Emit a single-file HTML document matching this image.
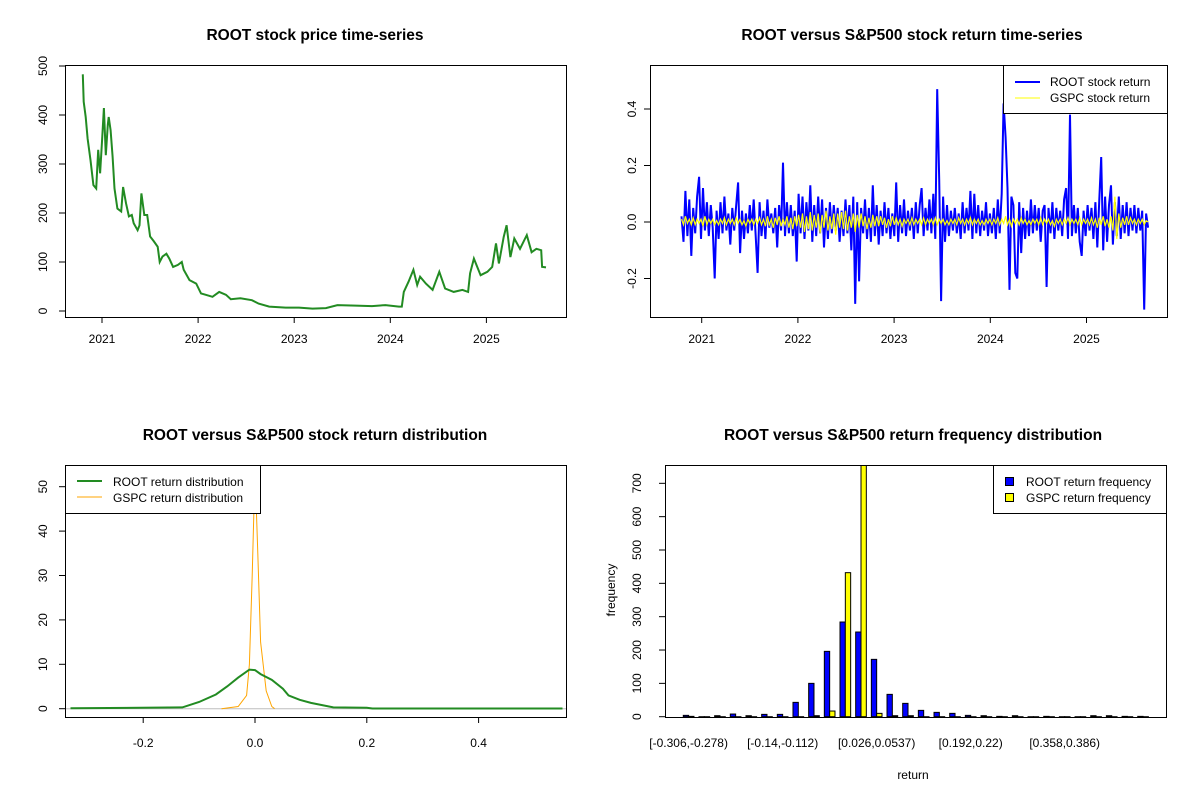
<!DOCTYPE html>
<html><head><meta charset="utf-8"><style>
body{margin:0;background:#fff;}
svg{display:block;font-family:"Liberation Sans",Arial,sans-serif;}
</style></head><body>
<svg id="c" width="1200" height="800" xmlns="http://www.w3.org/2000/svg">
<rect width="1200" height="800" fill="#fff"/>
</svg>
<script>
// ---- Panel 1: price data ----
const priceDates=[2020.80,2020.81,2020.83,2020.85,2020.88,2020.91,2020.94,2020.96,2020.98,2021.00,2021.02,2021.04,2021.06,2021.07,2021.09,2021.11,2021.13,2021.16,2021.20,2021.22,2021.25,2021.28,2021.31,2021.33,2021.37,2021.39,2021.41,2021.44,2021.47,2021.50,2021.54,2021.58,2021.60,2021.63,2021.67,2021.70,2021.74,2021.79,2021.83,2021.85,2021.91,2021.98,2022.03,2022.08,2022.15,2022.22,2022.29,2022.34,2022.44,2022.56,2022.63,2022.74,2022.91,2023.05,2023.19,2023.33,2023.45,2023.64,2023.81,2023.95,2024.09,2024.12,2024.14,2024.19,2024.24,2024.28,2024.31,2024.37,2024.44,2024.51,2024.57,2024.66,2024.75,2024.81,2024.83,2024.87,2024.94,2025.01,2025.06,2025.10,2025.13,2025.18,2025.21,2025.25,2025.29,2025.35,2025.42,2025.47,2025.52,2025.57,2025.58,2025.62];
const priceValues=[483,427,396,352,308,257,250,329,281,346,414,318,380,396,369,315,250,209,203,253,220,193,196,179,165,175,240,196,196,152,142,131,100,111,117,107,90,94,100,84,63,56,36,33,29,39,33,24,26,22,15,9,7,7,5,6,12,11,10,12,9,9,39,60,84,53,70,56,43,80,46,39,43,39,77,107,73,80,90,138,97,151,175,110,148,127,155,120,127,124,90,89];
const priceTicks=[0,100,200,300,400,500];
const yearTicks=[2021,2022,2023,2024,2025];
// ---- Panel 2: returns ----
const rootReturns=[0.02,-0.07,0.11,-0.05,0.08,-0.12,0.05,-0.04,0.09,0.16,-0.06,0.12,-0.03,0.07,-0.05,0.06,-0.02,-0.2,0.04,-0.06,
0.07,-0.04,0.09,-0.03,0.03,-0.08,0.05,-0.03,0.06,0.14,-0.11,0.04,-0.06,0.03,-0.04,0.06,-0.03,0.08,-0.05,-0.18,
0.07,-0.05,0.04,-0.06,0.08,-0.02,0.03,-0.04,0.05,-0.09,0.06,-0.03,0.21,-0.05,0.07,-0.04,0.06,-0.05,0.04,-0.14,
0.1,-0.04,0.09,-0.06,0.07,-0.03,0.13,-0.07,0.06,-0.05,0.09,-0.04,0.08,-0.09,0.05,-0.06,0.07,-0.04,0.06,-0.03,
0.05,-0.07,0.04,-0.05,0.08,-0.04,0.06,-0.1,0.09,-0.29,0.07,-0.21,0.05,-0.04,0.08,-0.06,0.05,-0.07,0.13,-0.05,
0.06,-0.08,0.04,-0.05,0.07,-0.04,0.05,-0.06,0.03,-0.05,0.14,-0.07,0.06,-0.04,0.08,-0.05,0.04,-0.03,0.05,-0.06,
0.07,-0.04,0.06,0.12,-0.05,0.05,-0.03,0.08,-0.04,0.1,-0.06,0.47,0.15,-0.28,0.09,-0.07,0.06,-0.05,0.04,-0.03,
0.05,-0.04,0.03,-0.06,0.07,-0.04,0.05,-0.03,0.11,-0.06,0.1,-0.04,0.06,-0.05,0.04,-0.03,0.07,-0.05,0.03,-0.04,
0.05,-0.06,0.08,-0.04,0.1,0.42,0.3,0.12,-0.24,0.09,0.06,-0.18,-0.2,0.07,-0.11,0.05,-0.06,0.04,-0.05,0.08,
-0.04,0.06,-0.03,0.05,-0.07,0.04,0.06,-0.23,0.05,-0.04,0.07,-0.06,0.05,-0.03,0.04,-0.05,0.08,0.12,-0.06,0.38,
-0.05,0.06,-0.04,0.05,-0.07,-0.12,0.04,-0.05,0.06,-0.03,0.05,-0.06,0.07,-0.09,0.08,0.23,-0.1,0.09,-0.07,0.06,
0.13,-0.08,0.07,-0.05,0.09,-0.06,0.06,-0.04,0.07,-0.05,0.05,-0.03,0.06,-0.04,0.05,-0.03,0.04,-0.31,0.03,-0.02];
const gspcReturns=[0.01,-0.01,0.02,-0.005,0.01,-0.01,0.015,-0.01,0.01,-0.005,0.01,-0.015,0.02,-0.01,0.01,-0.005,0.01,-0.01,0.005,-0.01,
0.01,-0.005,0.015,-0.01,0.01,-0.005,0.01,-0.01,0.015,-0.005,0.01,-0.01,0.005,-0.015,0.01,-0.005,0.01,-0.01,0.01,-0.005,
0.015,-0.01,0.01,-0.015,0.02,-0.01,0.01,-0.02,0.015,-0.01,0.02,-0.015,0.01,-0.01,0.02,-0.02,0.015,-0.025,0.02,-0.015,
0.025,-0.02,0.03,-0.035,0.02,-0.025,0.035,-0.03,0.025,-0.02,0.03,-0.04,0.025,-0.02,0.04,-0.03,0.02,-0.025,0.03,-0.045,
0.03,-0.02,0.035,-0.025,0.04,-0.03,0.02,-0.02,0.03,-0.035,0.025,-0.02,0.03,-0.015,0.02,-0.025,0.015,-0.02,0.025,-0.015,
0.02,-0.015,0.02,-0.01,0.015,-0.02,0.01,-0.015,0.02,-0.01,0.015,-0.01,0.01,-0.015,0.01,-0.005,0.01,-0.01,0.015,-0.01,
0.01,-0.005,0.01,-0.01,0.015,-0.01,0.01,-0.005,0.01,-0.01,0.015,-0.01,0.01,-0.005,0.01,-0.01,0.005,-0.01,0.01,-0.005,
0.01,-0.01,0.015,-0.005,0.01,-0.01,0.01,-0.005,0.015,-0.01,0.01,-0.005,0.01,-0.01,0.005,-0.01,0.01,-0.005,0.01,-0.01,
0.01,-0.005,0.015,-0.01,0.01,-0.005,0.02,-0.01,0.01,-0.015,0.01,-0.005,0.01,-0.01,0.015,-0.005,0.01,-0.01,0.005,-0.01,
0.01,-0.005,0.01,-0.01,0.015,-0.01,0.01,-0.005,0.01,-0.01,0.005,-0.015,0.01,-0.005,0.01,-0.01,0.01,-0.005,0.015,-0.01,
0.01,-0.005,0.01,-0.01,0.015,-0.01,0.01,-0.005,0.01,-0.01,0.015,-0.01,0.01,-0.02,0.015,-0.01,0.02,-0.015,0.01,-0.02,
0.02,-0.03,0.09,-0.06,0.03,-0.02,0.015,-0.01,0.02,-0.01,0.015,-0.005,0.01,-0.01,0.01,-0.005,0.01,-0.01,0.005,0];
const returnStart=2020.79, returnEnd=2025.64;
const returnTicks=[-0.2,0.0,0.2,0.4];
// ---- Panel 3: densities ----
const rootDensX=[-0.33,-0.13,-0.1,-0.07,-0.05,-0.03,-0.01,0.0,0.01,0.03,0.05,0.06,0.08,0.1,0.14,0.2,0.21,0.55];
const rootDensY=[0.1,0.3,1.5,3.2,5,7,8.8,8.7,7.8,6.5,4.5,3,2,1.3,0.3,0.2,0.05,0.05];
const gspcDensX=[-0.06,-0.03,-0.015,-0.01,-0.005,0,0.005,0.01,0.02,0.03,0.035];
const gspcDensY=[0,0.5,3,10,30,54,35,15,4,0.5,0];
const densXTicks=[-0.2,0.0,0.2,0.4];
const densYTicks=[0,10,20,30,40,50];
// ---- Panel 4: histogram ----
const binLabels=["[-0.306,-0.278)","[-0.14,-0.112)","[0.026,0.0537)","[0.192,0.22)","[0.358,0.386)"];
const rootFreq=[4,0,3,8,3,7,7,43,100,196,284,254,172,67,40,19,13,10,4,3,1,3,0,1,0,0,3,3,1,1];
const gspcFreq=[1,0,0,0,0,0,0,0,3,17,432,790,10,3,3,0,0,0,0,0,0,0,0,0,0,0,0,0,0,0];
const freqTicks=[0,100,200,300,400,500,600,700];

const S=document.getElementById('c');const NS='http://www.w3.org/2000/svg';
function mk(t,a,p){const e=document.createElementNS(NS,t);for(const k in a)e.setAttribute(k,a[k]);(p||S).appendChild(e);return e;}
function txt(x,y,s,o){o=o||{};const e=mk('text',{x:x,y:y,'font-size':o.size||12,'text-anchor':o.anchor||'middle',fill:'#000'});if(o.bold)e.setAttribute('font-weight','bold');if(o.rot)e.setAttribute('transform','rotate(-90 '+x+' '+y+')');e.textContent=s;return e;}
function pathOf(xs,ys){return xs.map((x,i)=>(i?'L':'M')+x.toFixed(1)+' '+ys[i].toFixed(1)).join('');}
const TS=15.5;

// Panel 1
(function(){
const g=mk('g',{});
const X=y=>102+(y-2021)*96.1, Y=v=>311-v*0.49;
const t=txt(315,40,'ROOT stock price time-series',{size:TS,bold:1});
const p=mk('path',{d:pathOf(priceDates.map(X),priceValues.map(Y)),fill:'none',stroke:'#228B22','stroke-width':2},g);

mk('rect',{x:65.5,y:65.5,width:501,height:252,fill:'none',stroke:'#000'},g);
priceTicks.forEach(v=>{mk('line',{x1:59,x2:65,y1:Y(v),y2:Y(v),stroke:'#000'},g);const l=txt(47,Y(v),String(v),{rot:1});});
yearTicks.forEach(v=>{mk('line',{x1:X(v),x2:X(v),y1:317,y2:323,stroke:'#000'},g);const l=txt(X(v),343,String(v));});
})();

// Panel 2
(function(){
const g=mk('g',{});
const X=y=>701.7+(y-2021)*96.2, Y=v=>222-v*282.5;
const t=txt(912,40,'ROOT versus S&P500 stock return time-series',{size:TS,bold:1});
const n=rootReturns.length;const xs=rootReturns.map((v,i)=>X(returnStart+i*(returnEnd-returnStart)/(n-1)));
const p1=mk('path',{d:pathOf(xs,rootReturns.map(Y)),fill:'none',stroke:'#0000ff','stroke-width':2},g);

const m=gspcReturns.length;const xs2=gspcReturns.map((v,i)=>X(returnStart+i*(returnEnd-returnStart)/(m-1)));
const p2=mk('path',{d:pathOf(xs2,gspcReturns.map(Y)),fill:'none',stroke:'#ffff00','stroke-width':1.2},g);

mk('rect',{x:650.5,y:65.5,width:517,height:252,fill:'none',stroke:'#000'},g);
returnTicks.forEach(v=>{mk('line',{x1:644,x2:650,y1:Y(v),y2:Y(v),stroke:'#000'},g);const l=txt(636,Y(v),v.toFixed(1),{rot:1});});
yearTicks.forEach(v=>{mk('line',{x1:X(v),x2:X(v),y1:317,y2:323,stroke:'#000'},g);const l=txt(X(v),343,String(v));});
const lg=mk('g',{},g);
mk('rect',{x:1003.5,y:65.5,width:164,height:48,fill:'#fff',stroke:'#000'},lg);
mk('line',{x1:1015,x2:1040,y1:82,y2:82,stroke:'#0000ff','stroke-width':2},lg);
mk('line',{x1:1015,x2:1040,y1:98,y2:98,stroke:'#ffff00','stroke-width':1},lg);
lg.appendChild(txt(1050,86,'ROOT stock return',{anchor:'start'}));
lg.appendChild(txt(1050,102,'GSPC stock return',{anchor:'start'}));
})();

// Panel 3
(function(){
const g=mk('g',{});
const X=v=>255+v*559, Y=v=>708.7-v*4.44;
const t=txt(315,440,'ROOT versus S&P500 stock return distribution',{size:TS,bold:1});
mk('line',{x1:65,x2:566,y1:Y(0),y2:Y(0),stroke:'#bebebe'},g);
const p2=mk('path',{d:pathOf(gspcDensX.map(X),gspcDensY.map(Y)),fill:'none',stroke:'#ffa500','stroke-width':1},g);

const p1=mk('path',{d:pathOf(rootDensX.map(X),rootDensY.map(Y)),fill:'none',stroke:'#228B22','stroke-width':2},g);

mk('rect',{x:65.5,y:465.5,width:501,height:252,fill:'none',stroke:'#000'},g);
densYTicks.forEach(v=>{mk('line',{x1:59,x2:65,y1:Y(v),y2:Y(v),stroke:'#000'},g);const l=txt(47,Y(v),String(v),{rot:1});});
densXTicks.forEach(v=>{mk('line',{x1:X(v),x2:X(v),y1:717,y2:723,stroke:'#000'},g);const l=txt(X(v),747,v.toFixed(1));});
const lg=mk('g',{},g);
mk('rect',{x:65.5,y:465.5,width:195,height:48,fill:'#fff',stroke:'#000'},lg);
mk('line',{x1:77,x2:102,y1:481,y2:481,stroke:'#228B22','stroke-width':2},lg);
mk('line',{x1:77,x2:102,y1:497,y2:497,stroke:'#ffa500','stroke-width':1},lg);
lg.appendChild(txt(113,486,'ROOT return distribution',{anchor:'start'}));
lg.appendChild(txt(113,502,'GSPC return distribution',{anchor:'start'}));
})();

// Panel 4
(function(){
const g=mk('g',{});
const Y=v=>716.7-v*0.3334, BW=5.33, GX=i=>683.3+i*15.67;
const t=txt(913,440,'ROOT versus S&P500 return frequency distribution',{size:TS,bold:1});
const cl=mk('clipPath',{id:'hc'},g);mk('rect',{x:666,y:465,width:501,height:253},cl);
const bars=mk('g',{'clip-path':'url(#hc)'},g);
rootFreq.forEach((v,i)=>{const r=mk('rect',{x:GX(i),y:Y(v),width:BW,height:Math.max(v*0.3334,0.01),fill:'#0000ff',stroke:'#000','stroke-width':1},bars);
});
gspcFreq.forEach((v,i)=>{const r=mk('rect',{x:GX(i)+BW,y:Y(v),width:BW,height:Math.max(v*0.3334,0.01),fill:'#ffff00',stroke:'#000','stroke-width':1},bars);
});
mk('rect',{x:665.5,y:465.5,width:501,height:252,fill:'none',stroke:'#000'},g);
freqTicks.forEach(v=>{mk('line',{x1:659,x2:665,y1:Y(v),y2:Y(v),stroke:'#000'},g);const l=txt(641,Y(v),String(v),{rot:1});});
binLabels.forEach((s,k)=>{const l=txt(GX(k*6)+BW,747,s);});
const yl=txt(615,590,'frequency',{rot:1});
const xl=txt(913,779,'return');
const lg=mk('g',{},g);
mk('rect',{x:993.5,y:465.5,width:173,height:48,fill:'#fff',stroke:'#000'},lg);
mk('rect',{x:1005.5,y:477.5,width:8,height:8,fill:'#0000ff',stroke:'#000'},lg);
mk('rect',{x:1005.5,y:493.5,width:8,height:8,fill:'#ffff00',stroke:'#000'},lg);
lg.appendChild(txt(1026,486,'ROOT return frequency',{anchor:'start'}));
lg.appendChild(txt(1026,502,'GSPC return frequency',{anchor:'start'}));
})();
</script>
</body></html>
